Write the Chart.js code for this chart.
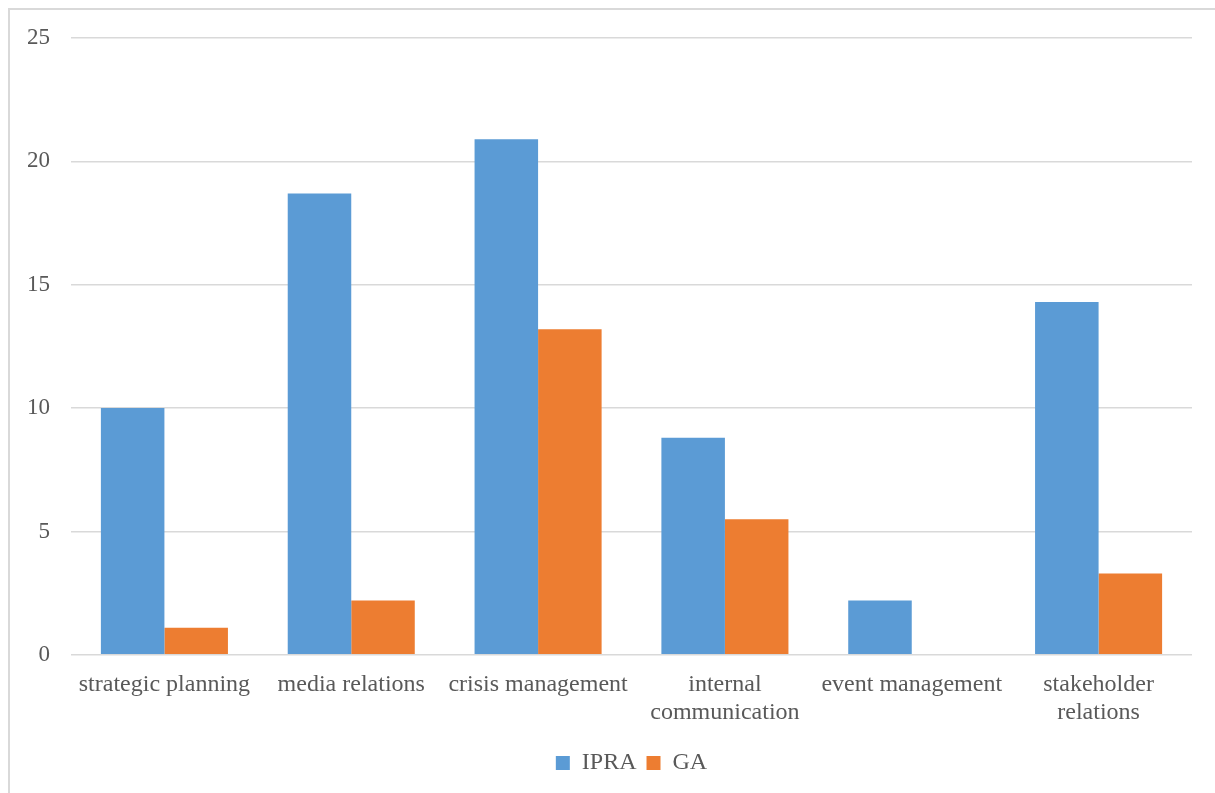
<!DOCTYPE html>
<html lang="en">
<head>
  <meta charset="UTF-8" />
  <title>IPRA vs GA</title>
  <script src="https://cdn.jsdelivr.net/npm/chart.js"></script>
  <style>
    body {
      margin: 0;
      background: #fff;
    }
    .frame {
      position: absolute;
      left: 8px;
      top: 8px;
      width: 1220px;
      height: 800px;
      border: 2px solid #d9d9d9;
      box-sizing: border-box;
    }
    .chart-container {
      position: absolute;
      left: 0;
      top: 0;
      width: 1215px;
      height: 793px;
    }
  </style>
</head>
<body>
  <div class="frame"></div>
  <div class="chart-container">
    <canvas id="barChart"></canvas>
  </div>

<script>
  const categories = [
    'strategic planning',
    'media relations',
    'crisis management',
    ['internal', 'communication'],
    'event management',
    ['stakeholder', 'relations']
  ];
  const ipra = [10.0, 18.7, 20.9, 8.8, 2.2, 14.3];
  const ga = [1.1, 2.2, 13.2, 5.5, 0, 3.3];
  const yTicks = [0, 5, 10, 15, 20, 25];

  const textColor = '#595959';
  const fontFamily = '"Liberation Serif", "Times New Roman", serif';

  const ctx = document.getElementById('barChart').getContext('2d');
  new Chart(ctx, {
    type: 'bar',
    data: {
      labels: categories,
      datasets: [
        { label: 'IPRA', data: ipra, backgroundColor: '#5b9bd5' },
        { label: 'GA', data: ga, backgroundColor: '#ed7d31' }
      ]
    },
    options: {
      responsive: true,
      maintainAspectRatio: false,
      animation: false,
      layout: { padding: { left: 0, right: 23, top: 38, bottom: 8 } },
      datasets: { bar: { categoryPercentage: 0.68, barPercentage: 1.0 } },
      plugins: {
        tooltip: { enabled: false },
        legend: {
          position: 'bottom',
          fullSize: false,
          labels: {
            color: textColor,
            font: { family: fontFamily, size: 24 },
            boxWidth: 14,
            boxHeight: 14,
            padding: 10
          }
        }
      },
      scales: {
        x: {
          grid: { display: false },
          border: { display: false },
          afterFit: axis => { axis.height += 6; },
          ticks: {
            color: textColor,
            font: { family: fontFamily, size: 24, lineHeight: 1.17 },
            maxRotation: 0,
            autoSkip: false,
            padding: 8
          }
        },
        y: {
          min: 0,
          max: 25,
          afterBuildTicks: axis => { axis.ticks = yTicks.map(v => ({ value: v })); },
          afterFit: axis => { axis.width = 71; },
          grid: { color: '#d9d9d9', lineWidth: 1.5, drawTicks: false },
          border: { display: false },
          ticks: {
            color: textColor,
            font: { family: fontFamily, size: 23 },
            padding: 21
          }
        }
      }
    }
  });
</script>
</body>
</html>
